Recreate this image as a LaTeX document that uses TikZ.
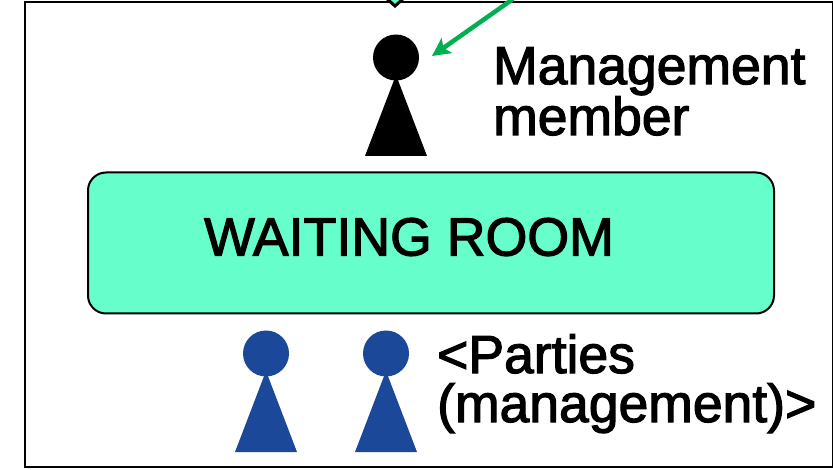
\documentclass[tikz,border=0pt]{standalone}
\usepackage{fontspec}
\setmainfont{Liberation Sans}
\newfontfamily\heavyfont[FakeBold=2.2]{Liberation Sans}
\usetikzlibrary{arrows.meta}
\definecolor{roomgreen}{HTML}{66FFCC}
\definecolor{partyblue}{HTML}{1C4899}
\definecolor{arrowgreen}{HTML}{00B050}
\tikzset{x=1pt,y=-1pt,
 lbl/.style={inner sep=0pt,anchor=base west,font=\heavyfont\fontsize{53.5}{49}\selectfont,align=left},
}
\newcommand{\pawn}[3]{% x, y top of head, colour
 \fill[#3] (#1-31,#2+121) -- (#1,#2+40) -- (#1+31,#2+121) -- cycle;
 \fill[#3] (#1,#2+22.5) circle[radius=23];
}
\begin{document}
\begin{tikzpicture}
\useasboundingbox (0,0) rectangle (833,470);
\draw[line width=2.5pt] (25,2) rectangle (833,467);
\draw[line width=3pt,fill=roomgreen] (385,-3) -- (395,6) -- (405,-3);
\pawn{396}{35}{black}
\pawn{266}{331}{partyblue}
\pawn{386}{331}{partyblue}
\node[draw,line width=2pt,fill=roomgreen,rounded corners=18pt,minimum width=686pt,minimum height=141pt,inner sep=0pt] (room) at (431,243) {};
\node[inner sep=0pt,font=\heavyfont\fontsize{53.7}{53}\selectfont] (roomtext) at (409,237) {WAITING ROOM};
\node[lbl] (mgmt) at (493,135) {Management\\member};
\node[lbl] (parties) at (437,422) {<Parties\\(management)>};
\coordinate (s) at (513,-1);
\coordinate (t) at (432,56);
\draw[arrowgreen,line width=4.5pt,-{Stealth[length=18pt,width=18pt,inset=4pt]}] (s) -- (t);
\end{tikzpicture}
\end{document}
